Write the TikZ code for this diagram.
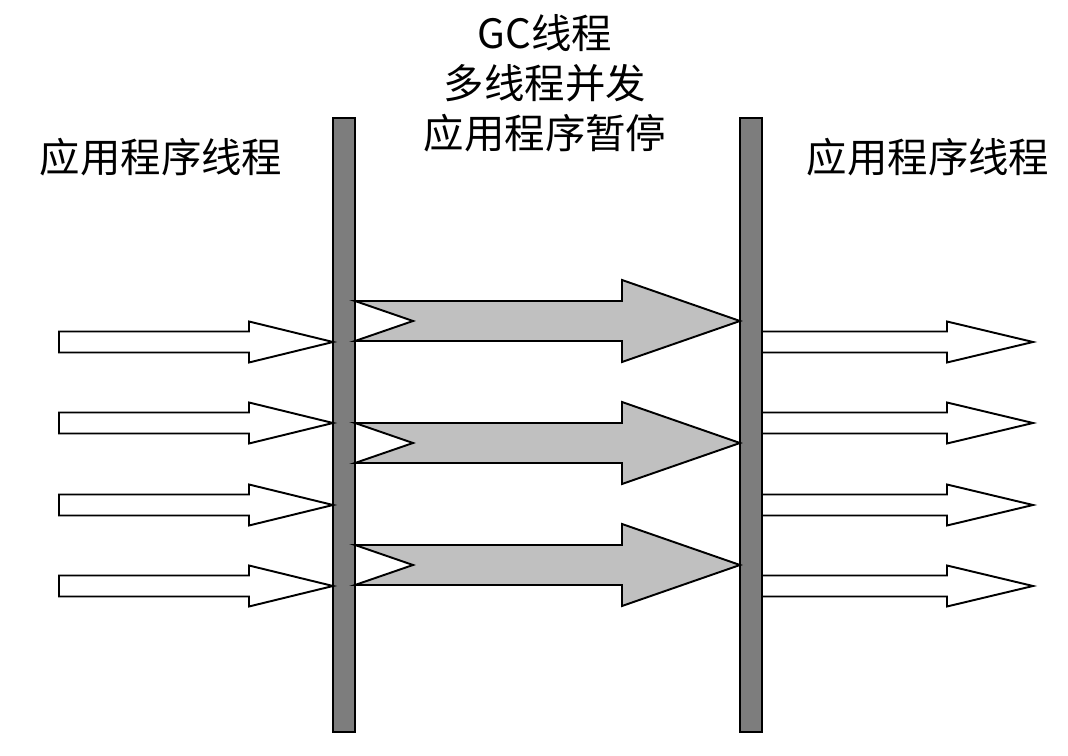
\documentclass[tikz,border=0pt]{standalone}
\usepackage{fontspec}
\newfontfamily\cjk{Noto Sans CJK SC}
\usepackage{xcolor}
\usetikzlibrary{positioning}

\definecolor{barfill}{RGB}{125,125,125}
\definecolor{gcfill}{RGB}{192,192,192}

\tikzset{
  bar/.style={draw=black, fill=barfill, line width=1.1pt, minimum width=0.44cm, minimum height=12.28cm, inner sep=0pt},
  tlabel/.style={font=\cjk\fontsize{23}{28.4}\selectfont, align=center, inner sep=0pt},
  apparrow/.style={draw=black, fill=white, line width=1.1pt, line join=miter},
  gcarrow/.style={apparrow, fill=gcfill},
}

% style, tail x, notch x, head base x, tip x, mid y, shaft half, head half
\newcommand{\blockarrow}[8]{
  \path[#1] (#2,#6-#7) -- (#4,#6-#7) -- (#4,#6-#8) -- (#5,#6) -- (#4,#6+#8)
    -- (#4,#6+#7) -- (#2,#6+#7) -- (#3,#6) -- cycle;
}

\begin{document}
\begin{tikzpicture}[x=0.02cm, y=-0.02cm]
\useasboundingbox (0,0) rectangle (1068,756);

\node [tlabel] (lefttext) at (161,157) {应用程序线程};
\node [tlabel] (gctext) at (545,83) {GC线程\\多线程并发\\应用程序暂停};
\node [tlabel] (righttext) at (928,157) {应用程序线程};

\node [bar] (lbar) at (344,425) {};
\node [bar] (rbar) at (751,425) {};

\foreach \y in {342,423,505,586} {
  \blockarrow{apparrow}{59}{59}{249}{333}{\y}{10.5}{20.5}
  \blockarrow{apparrow}{762}{762}{947}{1033}{\y}{10.5}{20.5}
}

\foreach \y in {321,443,565} {
  \blockarrow{gcarrow}{355}{413}{622}{740}{\y}{20}{41}
}

\end{tikzpicture}
\end{document}
